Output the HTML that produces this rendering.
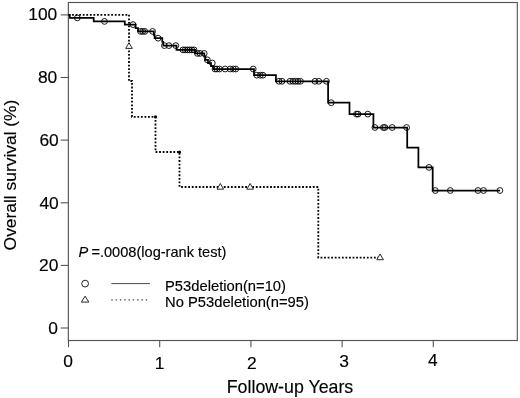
<!DOCTYPE html>
<html><head><meta charset="utf-8"><title>Overall survival</title>
<style>
html,body{margin:0;padding:0;background:#fff;}
svg{display:block;}
text{font-family:"Liberation Sans",Arial,sans-serif;fill:#000;stroke:#000;stroke-width:0.15px;}
.t{font-size:17.4px;}
.l{font-size:14.75px;}
.x{font-size:17.8px;}
</style></head><body>
<svg width="520" height="398" viewBox="0 0 520 398">
<rect width="520" height="398" fill="#fff"/>
<rect x="68.35" y="2.5" width="448.95" height="338.0" fill="none" stroke="#555" stroke-width="1.15"/>

<line x1="60.7" x2="68.5" y1="328.0" y2="328.0" stroke="#555" stroke-width="1.1"/>
<text class="t" x="58.0" y="334.3" text-anchor="end">0</text>
<line x1="60.7" x2="68.5" y1="265.4" y2="265.4" stroke="#555" stroke-width="1.1"/>
<text class="t" x="58.4" y="271.4" text-anchor="end">20</text>
<line x1="60.7" x2="68.5" y1="202.8" y2="202.8" stroke="#555" stroke-width="1.1"/>
<text class="t" x="58.8" y="208.65" text-anchor="end">40</text>
<line x1="60.7" x2="68.5" y1="140.1" y2="140.1" stroke="#555" stroke-width="1.1"/>
<text class="t" x="58.8" y="146.0" text-anchor="end">60</text>
<line x1="60.7" x2="68.5" y1="77.5" y2="77.5" stroke="#555" stroke-width="1.1"/>
<text class="t" x="57.3" y="83.0" text-anchor="end">80</text>
<line x1="60.7" x2="68.5" y1="14.9" y2="14.9" stroke="#555" stroke-width="1.1"/>
<text class="t" x="57.3" y="20.2" text-anchor="end">100</text>
<line x1="68.5" x2="68.5" y1="340.5" y2="347.2" stroke="#555" stroke-width="1.1"/>
<text class="t" x="68.0" y="367.2" text-anchor="middle">0</text>
<line x1="159.7" x2="159.7" y1="340.5" y2="347.2" stroke="#555" stroke-width="1.1"/>
<text class="t" x="159.5" y="369.0" text-anchor="middle">1</text>
<line x1="250.9" x2="250.9" y1="340.5" y2="347.2" stroke="#555" stroke-width="1.1"/>
<text class="t" x="251.8" y="369.0" text-anchor="middle">2</text>
<line x1="342.1" x2="342.1" y1="340.5" y2="347.2" stroke="#555" stroke-width="1.1"/>
<text class="t" x="344.0" y="367.4" text-anchor="middle">3</text>
<line x1="433.3" x2="433.3" y1="340.5" y2="347.2" stroke="#555" stroke-width="1.1"/>
<text class="t" x="432.8" y="366.2" text-anchor="middle">4</text>
<text class="x" x="290" y="392.5" text-anchor="middle">Follow-up Years</text>
<text class="t" transform="translate(16.0,175.0) rotate(-90)" text-anchor="middle">Overall survival (%)</text>
<path d="M68.5,14.8 H129 V81 H132 V116.8 H155.5 V152 H179.5 V187 H318.3 V257.6 H378" fill="none" stroke="#000" stroke-width="1.8" stroke-dasharray="1.8 1.76"/>
<circle cx="155.5" cy="116.8" r="1.6" fill="#000"/><circle cx="179.5" cy="152" r="1.6" fill="#000"/>
<path d="M68.5,14.8 H69.8 V17.9 H93.7 V21.4 H124.8 V24.6 H135.6 V28.2 H138 V31.4 H153.8 V34.8 H154.6 V38.2 H162.3 V41.9 H163.3 V45.6 H176.5 V49.9 H195.2 V53.4 H204.3 V56.6 H205.3 V59.8 H208 V63 H211 V66.2 H213.5 V69 H254 V75.2 H275.9 V81.3 H328.1 V102.7 H349.5 V114.1 H373.4 V127.5 H407.2 V147.6 H418.4 V167.4 H432.7 V190.5 H499.9" fill="none" stroke="#000" stroke-width="1.75" stroke-linejoin="miter"/>
<circle cx="77.3" cy="17.9" r="2.9" fill="none" stroke="#000" stroke-width="0.9"/>
<circle cx="104.5" cy="21.4" r="2.9" fill="none" stroke="#000" stroke-width="0.9"/>
<circle cx="133" cy="24.6" r="2.9" fill="none" stroke="#000" stroke-width="0.9"/>
<circle cx="140.6" cy="31.4" r="2.9" fill="none" stroke="#000" stroke-width="0.9"/>
<circle cx="142.7" cy="31.4" r="2.9" fill="none" stroke="#000" stroke-width="0.9"/>
<circle cx="144.8" cy="31.4" r="2.9" fill="none" stroke="#000" stroke-width="0.9"/>
<circle cx="152.6" cy="31.4" r="2.9" fill="none" stroke="#000" stroke-width="0.9"/>
<circle cx="158.1" cy="38.2" r="2.9" fill="none" stroke="#000" stroke-width="0.9"/>
<circle cx="164.4" cy="45.6" r="2.9" fill="none" stroke="#000" stroke-width="0.9"/>
<circle cx="168.9" cy="45.6" r="2.9" fill="none" stroke="#000" stroke-width="0.9"/>
<circle cx="175.8" cy="45.6" r="2.9" fill="none" stroke="#000" stroke-width="0.9"/>
<circle cx="183" cy="49.9" r="2.9" fill="none" stroke="#000" stroke-width="0.9"/>
<circle cx="185.2" cy="49.9" r="2.9" fill="none" stroke="#000" stroke-width="0.9"/>
<circle cx="187.4" cy="49.9" r="2.9" fill="none" stroke="#000" stroke-width="0.9"/>
<circle cx="189.6" cy="49.9" r="2.9" fill="none" stroke="#000" stroke-width="0.9"/>
<circle cx="191.8" cy="49.9" r="2.9" fill="none" stroke="#000" stroke-width="0.9"/>
<circle cx="194" cy="49.9" r="2.9" fill="none" stroke="#000" stroke-width="0.9"/>
<circle cx="197.4" cy="53.4" r="2.9" fill="none" stroke="#000" stroke-width="0.9"/>
<circle cx="200" cy="53.4" r="2.9" fill="none" stroke="#000" stroke-width="0.9"/>
<circle cx="204.2" cy="53.4" r="2.9" fill="none" stroke="#000" stroke-width="0.9"/>
<circle cx="207.3" cy="59.8" r="2.9" fill="none" stroke="#000" stroke-width="0.9"/>
<circle cx="212.3" cy="63" r="2.9" fill="none" stroke="#000" stroke-width="0.9"/>
<circle cx="215" cy="69" r="2.9" fill="none" stroke="#000" stroke-width="0.9"/>
<circle cx="217" cy="69" r="2.9" fill="none" stroke="#000" stroke-width="0.9"/>
<circle cx="219.5" cy="69" r="2.9" fill="none" stroke="#000" stroke-width="0.9"/>
<circle cx="225.1" cy="69" r="2.9" fill="none" stroke="#000" stroke-width="0.9"/>
<circle cx="230.2" cy="69" r="2.9" fill="none" stroke="#000" stroke-width="0.9"/>
<circle cx="233.3" cy="69" r="2.9" fill="none" stroke="#000" stroke-width="0.9"/>
<circle cx="235.8" cy="69" r="2.9" fill="none" stroke="#000" stroke-width="0.9"/>
<circle cx="253.2" cy="69" r="2.9" fill="none" stroke="#000" stroke-width="0.9"/>
<circle cx="256.8" cy="75.2" r="2.9" fill="none" stroke="#000" stroke-width="0.9"/>
<circle cx="260.3" cy="75.2" r="2.9" fill="none" stroke="#000" stroke-width="0.9"/>
<circle cx="262.9" cy="75.2" r="2.9" fill="none" stroke="#000" stroke-width="0.9"/>
<circle cx="279" cy="81.3" r="2.9" fill="none" stroke="#000" stroke-width="0.9"/>
<circle cx="282" cy="81.3" r="2.9" fill="none" stroke="#000" stroke-width="0.9"/>
<circle cx="290" cy="81.3" r="2.9" fill="none" stroke="#000" stroke-width="0.9"/>
<circle cx="293" cy="81.3" r="2.9" fill="none" stroke="#000" stroke-width="0.9"/>
<circle cx="295.5" cy="81.3" r="2.9" fill="none" stroke="#000" stroke-width="0.9"/>
<circle cx="298" cy="81.3" r="2.9" fill="none" stroke="#000" stroke-width="0.9"/>
<circle cx="300.5" cy="81.3" r="2.9" fill="none" stroke="#000" stroke-width="0.9"/>
<circle cx="315" cy="81.3" r="2.9" fill="none" stroke="#000" stroke-width="0.9"/>
<circle cx="318.8" cy="81.3" r="2.9" fill="none" stroke="#000" stroke-width="0.9"/>
<circle cx="326.5" cy="81.3" r="2.9" fill="none" stroke="#000" stroke-width="0.9"/>
<circle cx="331.2" cy="102.7" r="2.9" fill="none" stroke="#000" stroke-width="0.9"/>
<circle cx="356.5" cy="114.1" r="2.9" fill="none" stroke="#000" stroke-width="0.9"/>
<circle cx="358" cy="114.1" r="2.9" fill="none" stroke="#000" stroke-width="0.9"/>
<circle cx="367.8" cy="114.1" r="2.9" fill="none" stroke="#000" stroke-width="0.9"/>
<circle cx="374.9" cy="127.5" r="2.9" fill="none" stroke="#000" stroke-width="0.9"/>
<circle cx="383.4" cy="127.5" r="2.9" fill="none" stroke="#000" stroke-width="0.9"/>
<circle cx="384.9" cy="127.5" r="2.9" fill="none" stroke="#000" stroke-width="0.9"/>
<circle cx="392.2" cy="127.5" r="2.9" fill="none" stroke="#000" stroke-width="0.9"/>
<circle cx="406.6" cy="127.5" r="2.9" fill="none" stroke="#000" stroke-width="0.9"/>
<circle cx="429" cy="167.4" r="2.9" fill="none" stroke="#000" stroke-width="0.9"/>
<circle cx="435.3" cy="190.5" r="2.9" fill="none" stroke="#000" stroke-width="0.9"/>
<circle cx="450.3" cy="190.5" r="2.9" fill="none" stroke="#000" stroke-width="0.9"/>
<circle cx="478" cy="190.5" r="2.9" fill="none" stroke="#000" stroke-width="0.9"/>
<circle cx="483.5" cy="190.5" r="2.9" fill="none" stroke="#000" stroke-width="0.9"/>
<circle cx="499.9" cy="190.5" r="2.9" fill="none" stroke="#000" stroke-width="0.9"/>
<path d="M129.0,42.7 L132.3,48.4 H125.7 Z" fill="#fff" stroke="#111" stroke-width="0.9"/>
<path d="M220.3,183.5 L223.6,189.2 H217.0 Z" fill="#fff" stroke="#111" stroke-width="0.9"/>
<path d="M250.1,183.5 L253.4,189.2 H246.8 Z" fill="#fff" stroke="#111" stroke-width="0.9"/>
<path d="M380.1,254.0 L383.4,259.7 H376.8 Z" fill="#fff" stroke="#111" stroke-width="0.9"/>
<text class="l" style="font-size:14.6px" x="78.4" y="256.7"><tspan font-style="italic">P</tspan><tspan dx="-0.8"> =.0008(log-rank test)</tspan></text>
<circle cx="85.1" cy="283.6" r="3.4" fill="none" stroke="#222" stroke-width="1"/>
<line x1="111.3" x2="149.9" y1="283.6" y2="283.6" stroke="#333" stroke-width="0.9"/>
<path d="M85.1,296.2 L88.8,302.1 H81.4 Z" fill="#fff" stroke="#111" stroke-width="0.9"/>
<line x1="111.3" x2="147.5" y1="299.9" y2="299.9" stroke="#444" stroke-width="1.1" stroke-dasharray="1.4 2.9"/>
<text class="l" x="165" y="290.8">P53deletion(n=10)</text>
<text class="l" x="165" y="306.5">No P53deletion(n=95)</text>
</svg></body></html>
